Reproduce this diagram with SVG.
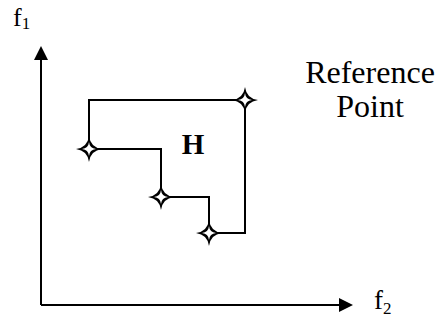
<svg xmlns="http://www.w3.org/2000/svg" width="436" height="324" viewBox="0 0 436 324">
<style>
.t{font-family:'Liberation Serif','Times New Roman',Times,serif;fill:#000}
.ln{fill:none;stroke:#000;stroke-width:2}
</style>
<defs>
<g id="st">
<path d="M0,-13 Q1.5,-1.5 13,0 Q1.5,1.5 0,13 Q-1.5,1.5 -13,0 Q-1.5,-1.5 0,-13 Z" fill="#000"/>
<path d="M0,-7 Q0.6,-0.6 7,0 Q0.6,0.6 0,7 Q-0.6,0.6 -7,0 Q-0.6,-0.6 0,-7 Z" fill="#fff"/>
</g>
</defs>
<rect width="436" height="324" fill="#fff"/>
<g id="axes">
<path class="ln" d="M41,305 L41,58 M41,305 L340,305"/>
<polygon points="41,46 34,60 48,60" fill="#000"/>
<polygon points="353,305 339,298 339,312" fill="#000"/>
</g>
<g id="connectors">
<path class="ln" d="M245,100 L89,100 L89,149 L161,149 L161,197 L209,197 L209,233 L245,233 Z"/>
</g>
<g id="p1"><use href="#st" x="89" y="149"/></g>
<g id="p2"><use href="#st" x="161" y="197"/></g>
<g id="p3"><use href="#st" x="209" y="233"/></g>
<g id="ref"><use href="#st" x="245" y="100"/></g>
<g id="labels">
<text class="t" font-family="Liberation Serif, serif" x="13" y="26" font-size="26">f<tspan font-size="17" dy="3">1</tspan></text>
<text class="t" font-family="Liberation Serif, serif" x="374" y="309" font-size="27">f<tspan font-size="17" dy="5">2</tspan></text>
<text class="t" font-family="Liberation Serif, serif" x="193" y="154" font-size="29" font-weight="bold" text-anchor="middle">H</text>
<text class="t" font-family="Liberation Serif, serif" x="370" y="83" font-size="32" text-anchor="middle">Reference</text>
<text class="t" font-family="Liberation Serif, serif" x="370" y="117" font-size="32" text-anchor="middle">Point</text>
</g>
</svg>
